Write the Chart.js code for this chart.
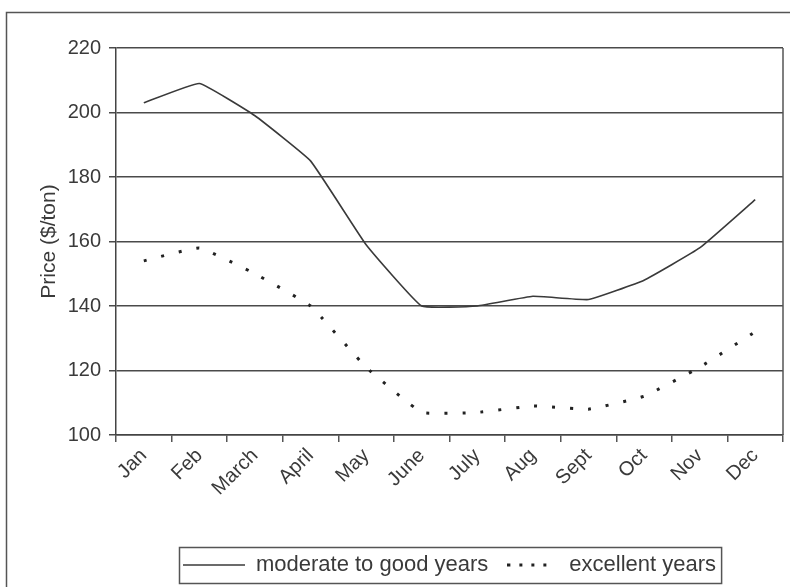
<!DOCTYPE html>
<html>
<head>
<meta charset="utf-8">
<script src="https://cdn.jsdelivr.net/npm/chart.js@4.4.1/dist/chart.umd.min.js"></script>
<style>
  html, body { margin: 0; padding: 0; background: #fff; }
</style>
</head>
<body>
<canvas id="priceChart" width="790" height="587"></canvas>
<script>
// data
const months = ["Jan", "Feb", "March", "April", "May", "June", "July", "Aug", "Sept", "Oct", "Nov", "Dec"];
const moderateYears = [203, 209, 199, 185, 159, 140, 140, 143, 142, 148, 158, 173];
const excellentYears = [154, 158, 150, 140, 121, 107, 107, 109, 108, 112, 121, 132];
const yTicks = [100, 120, 140, 160, 180, 200, 220];

const ink = "#3a3a3a";
const font = { family: "'Liberation Sans', Arial, sans-serif", size: 20 };

// small legend samples (the legend ignores borderDash when usePointStyle is on)
function legendSample(width, dash, lineWidth, color) {
  const c = document.createElement("canvas");
  c.width = width;
  c.height = 6;
  const g = c.getContext("2d");
  g.strokeStyle = color;
  g.lineWidth = lineWidth;
  g.setLineDash(dash);
  g.beginPath();
  g.moveTo(0, 3);
  g.lineTo(width, 3);
  g.stroke();
  return c;
}
const solidSample = legendSample(62, [], 1.6, ink);
const dotSample = legendSample(40, [3, 9], 3, "#222");

// outer frame, right edge of the plot and the box round the legend
const framePlugin = {
  id: "frame",
  afterDraw(chart) {
    const ctx = chart.ctx;
    const a = chart.chartArea;
    ctx.save();
    ctx.strokeStyle = "#555";
    ctx.lineWidth = 1.5;
    ctx.strokeRect(6.5, 12.5, 820, 620);

    ctx.beginPath();
    ctx.moveTo(a.right, a.top);
    ctx.lineTo(a.right, a.bottom);
    ctx.stroke();

    const boxes = chart.legend.legendHitBoxes;
    if (boxes && boxes.length) {
      const first = boxes[0];
      const last = boxes[boxes.length - 1];
      const left = first.left - 4;
      const right = last.left + last.width + 5;
      const top = chart.legend.top + 1;
      ctx.strokeRect(Math.round(left) + 0.5, Math.round(top) + 0.5, right - left, 36);
    }
    ctx.restore();
  }
};

let ctx = document.getElementById("priceChart").getContext("2d");

let chart = new Chart(ctx, {
  type: "line",
  data: {
    labels: months,
    datasets: [
      {
        label: "moderate to good years",
        data: moderateYears,
        borderColor: ink,
        borderWidth: 1.6,
        pointRadius: 0,
        pointStyle: solidSample,
        tension: 0.1,
        fill: false,
      },
      {
        label: "excellent years",
        data: excellentYears,
        borderColor: "#222",
        borderWidth: 3,
        borderDash: [3, 15],
        pointRadius: 0,
        pointStyle: dotSample,
        tension: 0.1,
        fill: false,
      },
    ],
  },
  options: {
    responsive: false,
    animation: false,
    layout: {
      padding: { left: 0, right: 7, top: 48, bottom: 1 },
    },
    scales: {
      x: {
        offset: true,
        grid: {
          offset: true,
          drawOnChartArea: false,
          color: "#555",
          lineWidth: 1.5,
          tickLength: 7,
        },
        border: { color: "#444", width: 1.5 },
        ticks: {
          color: ink,
          font: font,
          minRotation: 45,
          maxRotation: 45,
          padding: 2,
        },
        afterFit: (scale) => {
          scale.height = 111;
        },
      },
      y: {
        min: 100,
        max: 220,
        afterBuildTicks: (scale) => {
          scale.ticks = yTicks.map((v) => ({ value: v }));
        },
        grid: {
          color: "#4a4a4a",
          lineWidth: 1.5,
          tickLength: 7,
        },
        border: { color: "#444", width: 1.5 },
        ticks: {
          color: ink,
          font: font,
          padding: 8,
        },
        title: {
          display: true,
          text: "Price ($/ton)",
          color: ink,
          font: { family: font.family, size: 21 },
          padding: { top: 37, bottom: 0 },
        },
        afterFit: (scale) => {
          scale.width = 116;
        },
      },
    },
    plugins: {
      legend: {
        position: "bottom",
        fullSize: false,
        labels: {
          color: ink,
          font: { family: font.family, size: 22 },
          usePointStyle: true,
          pointStyleWidth: 62,
          padding: 8,
        },
      },
      tooltip: { enabled: false },
    },
  },
  plugins: [framePlugin],
});
</script>
</body>
</html>
